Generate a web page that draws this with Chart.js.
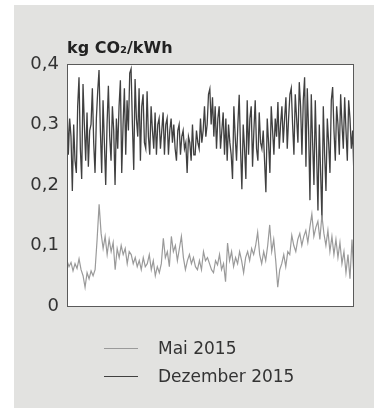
<!DOCTYPE html>
<html lang="de">
<head>
    <meta charset="UTF-8">
    <title>CO2 je kWh</title>
    <script src="https://cdn.jsdelivr.net/npm/chart.js"></script>
    <style>
        body {
            margin: 0;
            background-color: #ffffff;
            font-family: "DejaVu Sans", Verdana, sans-serif;
        }
        .panel {
            position: absolute;
            left: 14px;
            top: 5px;
            width: 360px;
            height: 403px;
            background-color: #e2e2e0;
        }
        .panel canvas {
            position: absolute;
            left: 0;
            top: 0;
        }
        .legend-item {
            position: absolute;
            left: 90px;
            font-size: 17px;
            color: #333;
            line-height: 20px;
        }
        .legend-item span.swatch {
            display: inline-block;
            width: 34px;
            height: 0;
            vertical-align: middle;
            margin-right: 20px;
            position: relative;
            top: -1px;
        }
    </style>
</head>
<body>
    <div class="panel">
        <canvas id="co2Chart" width="360" height="403"></canvas>
        <div class="legend-item" style="top: 333px;"><span class="swatch" style="border-top: 1px solid #9a9a9a;"></span>Mai 2015</div>
        <div class="legend-item" style="top: 361px;"><span class="swatch" style="border-top: 1.5px solid #404040;"></span>Dezember 2015</div>
    </div>

    <script>
        // Werte (stündliche Werte, ausgedünnt)
        const seriesNames = ['Mai 2015', 'Dezember 2015'];
        const yTicks = [0, 0.1, 0.2, 0.3, 0.4];

        const mai2015 = [
            0.075, 0.065, 0.072, 0.058, 0.07, 0.062, 0.078, 0.06,
            0.05, 0.031, 0.055, 0.045, 0.058, 0.05, 0.06, 0.11,
            0.168, 0.12, 0.095, 0.115, 0.085, 0.11, 0.09, 0.105,
            0.06, 0.095, 0.08, 0.1, 0.085, 0.095, 0.07, 0.09,
            0.085, 0.07, 0.08, 0.065, 0.075, 0.06, 0.08, 0.065,
            0.07, 0.085, 0.06, 0.075, 0.05, 0.065, 0.055, 0.07,
            0.112, 0.08, 0.09, 0.065, 0.115, 0.09, 0.1, 0.075,
            0.095, 0.115, 0.08, 0.06, 0.075, 0.085, 0.07, 0.08,
            0.065, 0.06, 0.075, 0.06, 0.09, 0.075, 0.08, 0.07,
            0.06, 0.055, 0.075, 0.068, 0.085, 0.06, 0.07, 0.04,
            0.104, 0.075, 0.09, 0.065, 0.08, 0.07, 0.09, 0.075,
            0.055, 0.08, 0.09, 0.075, 0.095, 0.085, 0.1, 0.122,
            0.085, 0.07, 0.09, 0.075, 0.1, 0.134, 0.09, 0.11,
            0.075, 0.031, 0.06, 0.07, 0.085, 0.065, 0.09, 0.085,
            0.117, 0.1, 0.09, 0.11, 0.12, 0.1, 0.115, 0.125,
            0.105, 0.13, 0.152, 0.115, 0.13, 0.14, 0.11, 0.15,
            0.12, 0.1, 0.125, 0.09, 0.115, 0.085, 0.11, 0.08,
            0.105, 0.07, 0.09, 0.055, 0.085, 0.045, 0.11, 0.045
        ];

        const dezember2015 = [
            0.34, 0.25, 0.31, 0.28, 0.19, 0.30, 0.24, 0.22, 0.33, 0.378, 0.26, 0.21,
            0.367, 0.30, 0.24, 0.32, 0.23, 0.29, 0.30, 0.36, 0.27, 0.22, 0.31, 0.355,
            0.39, 0.29, 0.22, 0.34, 0.27, 0.20, 0.30, 0.364, 0.28, 0.24, 0.33, 0.29,
            0.20, 0.31, 0.26, 0.33, 0.373, 0.22, 0.30, 0.36, 0.25, 0.34, 0.29, 0.385,
            0.392, 0.30, 0.225, 0.375, 0.31, 0.28, 0.36, 0.24, 0.33, 0.35, 0.27, 0.26,
            0.355, 0.28, 0.25, 0.33, 0.29, 0.26, 0.32, 0.25, 0.30, 0.31, 0.26, 0.29,
            0.32, 0.25, 0.30, 0.31, 0.25, 0.29, 0.31, 0.27, 0.30, 0.26, 0.24, 0.29,
            0.30, 0.25, 0.28, 0.29, 0.26, 0.27, 0.22, 0.28, 0.27, 0.24, 0.30, 0.25,
            0.25, 0.29, 0.27, 0.26, 0.31, 0.27, 0.29, 0.33, 0.28, 0.30, 0.35, 0.359,
            0.30, 0.345, 0.28, 0.33, 0.26, 0.31, 0.33, 0.26, 0.29, 0.32, 0.25, 0.31,
            0.24, 0.30, 0.27, 0.25, 0.21, 0.33, 0.28, 0.24, 0.30, 0.349, 0.26, 0.193,
            0.30, 0.26, 0.21, 0.34, 0.25, 0.31, 0.33, 0.23, 0.29, 0.34, 0.26, 0.24,
            0.32, 0.27, 0.26, 0.29, 0.24, 0.188, 0.31, 0.27, 0.22, 0.33, 0.29, 0.25,
            0.31, 0.28, 0.337, 0.26, 0.30, 0.33, 0.27, 0.31, 0.345, 0.26, 0.31, 0.35,
            0.36, 0.30, 0.25, 0.35, 0.31, 0.27, 0.37, 0.33, 0.25, 0.34, 0.378, 0.23,
            0.36, 0.29, 0.175, 0.35, 0.27, 0.20, 0.34, 0.25, 0.158, 0.30, 0.22, 0.142,
            0.33, 0.25, 0.19, 0.31, 0.27, 0.22, 0.34, 0.362, 0.29, 0.24, 0.33, 0.30,
            0.25, 0.35, 0.30, 0.26, 0.345, 0.29, 0.24, 0.34, 0.31, 0.26, 0.29, 0.21
        ];

        // both months have 744 hours; spread the samples over that range
        const monthHours = 744;
        const toPoints = arr => arr.map((v, i) => ({ x: i * monthHours / (arr.length - 1), y: v }));

        // white plot area + frame + unit label
        const plotFrame = {
            id: 'plotFrame',
            beforeDraw(chart) {
                const { ctx, chartArea } = chart;
                ctx.save();
                ctx.fillStyle = '#ffffff';
                ctx.fillRect(chartArea.left, chartArea.top, chartArea.right - chartArea.left, chartArea.bottom - chartArea.top);
                ctx.restore();
            },
            afterDraw(chart) {
                const { ctx, chartArea } = chart;
                ctx.save();
                ctx.strokeStyle = '#5a5a5a';
                ctx.lineWidth = 1;
                ctx.strokeRect(chartArea.left + 0.5, chartArea.top + 0.5, chartArea.right - chartArea.left - 1, chartArea.bottom - chartArea.top);
                ctx.fillStyle = '#222';
                ctx.font = 'bold 16px "DejaVu Sans", Verdana, sans-serif';
                ctx.textBaseline = 'alphabetic';
                ctx.fillText('kg CO\u2082/kWh', chartArea.left, chartArea.top - 11);
                ctx.restore();
            }
        };

        const ctx = document.getElementById('co2Chart').getContext('2d');
        new Chart(ctx, {
            type: 'line',
            data: {
                datasets: [
                    {
                        label: seriesNames[0],
                        data: toPoints(mai2015),
                        borderColor: '#9a9a9a',
                        borderWidth: 1.2,
                        pointRadius: 0,
                        tension: 0
                    },
                    {
                        label: seriesNames[1],
                        data: toPoints(dezember2015),
                        borderColor: '#404040',
                        borderWidth: 1.3,
                        pointRadius: 0,
                        tension: 0
                    }
                ]
            },
            options: {
                responsive: false,
                animation: false,
                layout: {
                    padding: { top: 59, right: 20, bottom: 102, left: 0 }
                },
                plugins: {
                    legend: { display: false },
                    tooltip: { enabled: false }
                },
                scales: {
                    x: {
                        type: 'linear',
                        display: false,
                        min: 0,
                        max: monthHours
                    },
                    y: {
                        min: 0,
                        max: 0.4,
                        afterBuildTicks(scale) {
                            scale.ticks = yTicks.map(v => ({ value: v }));
                        },
                        afterFit(scale) {
                            scale.width = 53;
                        },
                        grid: { display: false, drawTicks: false },
                        border: { display: false },
                        ticks: {
                            padding: 8,
                            color: '#333',
                            font: { family: '"DejaVu Sans", Verdana, sans-serif', size: 18 },
                            callback: v => v === 0 ? '0' : v.toFixed(1).replace('.', ',')
                        }
                    }
                }
            },
            plugins: [plotFrame]
        });
    </script>
</body>
</html>
